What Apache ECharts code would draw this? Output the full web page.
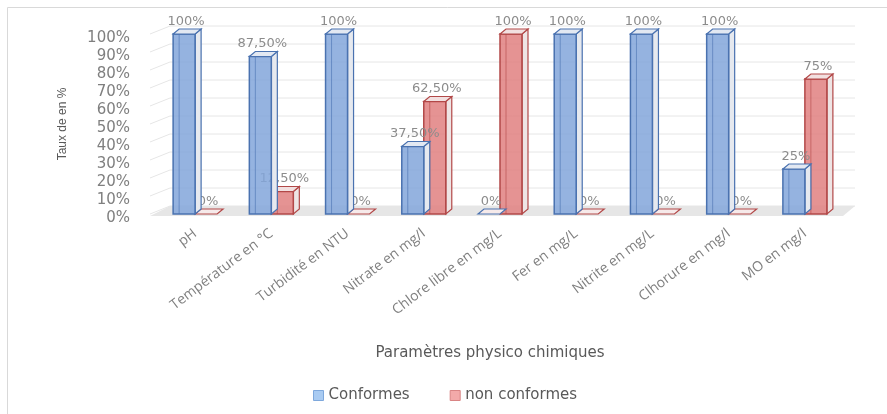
<!DOCTYPE html>
<html>
<head>
<meta charset="utf-8">
<script src="https://cdn.jsdelivr.net/npm/echarts@6/dist/echarts.min.js"></script>
<style>
  html, body { margin: 0; padding: 0; background: #fff; }
  #chart { width: 887px; height: 414px; }
</style>
</head>
<body>
<div id="chart"></div>
<script>
var categories = ['pH', 'Température en °C', 'Turbidité en NTU', 'Nitrate en mg/l',
    'Chlore libre en mg/L', 'Fer en mg/L', 'Nitrite en mg/L', 'Clhorure en mg/l', 'MO en mg/l'];
var conformes = [100, 87.5, 100, 37.5, 0, 100, 100, 100, 25];
var nonConformes = [0, 12.5, 0, 62.5, 100, 0, 0, 0, 75];
var yTicks = [0, 10, 20, 30, 40, 50, 60, 70, 80, 90, 100];

// bar look (front, edge, side)
var styles = {
    blue: { front: 'rgba(130,166,218,0.85)', edge: '#4a72b0', side: '#e6e9ef', top: '#e2e8f2', legend: '#a9cbf2', legendBorder: '#7ea8dc' },
    red: { front: 'rgba(224,128,128,0.85)', edge: '#b24848', side: '#eee4e4', top: '#f2e0e0', legend: '#f3a9a9', legendBorder: '#d98484' }
};
var DX = 6, DY = 5;      // bar depth
var WX = 20, WY = 8;     // wall depth

function fmt(v) {
    if (v % 1 === 0) return v + '%';
    return v.toFixed(2).replace('.', ',') + '%';
}

function bar3d(st, side) {
    return function (params, api) {
        var idx = api.value(0);
        var val = api.value(1);
        var base = api.coord([idx, 0]);
        var top = api.coord([idx, val]);
        var w = 22;
        var x = side === 0 ? base[0] - w : base[0];
        var y0 = base[1], y1 = top[1];
        var children = [];
        if (val > 0) {
            // side face
            children.push({
                type: 'polygon',
                shape: { points: [[x + w, y1], [x + w + DX, y1 - DY], [x + w + DX, y0 - DY], [x + w, y0]] },
                style: { fill: st.side, stroke: st.edge, lineWidth: 1.2 }
            });
            // front
            children.push({
                type: 'rect',
                shape: { x: x, y: y1, width: w, height: y0 - y1 },
                style: { fill: st.front, stroke: st.edge, lineWidth: 1.5 }
            });
            // inner back edge
            children.push({
                type: 'line',
                shape: { x1: x + DX, y1: y1, x2: x + DX, y2: y0 },
                style: { stroke: st.edge, lineWidth: 1, opacity: 0.6 }
            });
            // top face
            children.push({
                type: 'polygon',
                shape: { points: [[x, y1], [x + DX, y1 - DY], [x + w + DX, y1 - DY], [x + w, y1]] },
                style: { fill: st.top, stroke: st.edge, lineWidth: 1.2 }
            });
        } else {
            children.push({
                type: 'polygon',
                shape: { points: [[x, y0], [x + DX, y0 - DY], [x + w + DX, y0 - DY], [x + w, y0]] },
                style: { fill: '#f6eaea', stroke: st.edge, lineWidth: 1.2 }
            });
        }
        children.push({
            type: 'text',
            style: {
                text: fmt(val), x: x + w / 2 + 2, y: y1 - DY - 1,
                align: 'center', verticalAlign: 'bottom',
                fill: '#8c8c8c', font: '13px "DejaVu Sans"'
            },
            z2: 10
        });
        return { type: 'group', children: children };
    };
}

// back wall gridlines, floor and tick labels
function wall(params, api) {
    var cs = params.coordSys;
    var v = api.value(0);
    var p = api.coord([0, v]);
    var y = p[1];
    var left = cs.x - 7;
    var right = cs.x + cs.width + 12;
    var children = [
        { type: 'line', shape: { x1: left, y1: y, x2: left + WX, y2: y - WY }, style: { stroke: '#e6e6e6', lineWidth: 1 } },
        { type: 'line', shape: { x1: left + WX, y1: y - WY, x2: right, y2: y - WY }, style: { stroke: '#e6e6e6', lineWidth: 1 } },
        {
            type: 'text',
            style: {
                text: v + '%', x: cs.x - 27, y: y + 4,
                align: 'right', verticalAlign: 'middle',
                fill: '#7f7f7f', font: '15px "DejaVu Sans"'
            }
        }
    ];
    if (v === 0) {
        children.push({
            type: 'polygon',
            shape: { points: [[left, y + 2], [left + WX, y - WY], [right, y - WY], [right - 12, y + 2]] },
            style: { fill: '#e6e6e6' }
        });
    }
    return { type: 'group', children: children };
}

var option = {
    animation: false,
    graphic: [{
        type: 'polyline',
        shape: { points: [[7.5, 420], [7.5, 7.5], [887, 7.5]] },
        style: { fill: 'none', stroke: '#d9d9d9', lineWidth: 1 }
    }],
    legend: {
        bottom: 6, left: 308,
        itemWidth: 10, itemHeight: 10, itemGap: 40,
        icon: 'rect',
        textStyle: { color: '#595959', fontSize: 15, fontFamily: 'DejaVu Sans' },
        data: [
            { name: 'Conformes', itemStyle: { color: styles.blue.legend, borderColor: styles.blue.legendBorder, borderWidth: 1 } },
            { name: 'non conformes', itemStyle: { color: styles.red.legend, borderColor: styles.red.legendBorder, borderWidth: 1 } }
        ]
    },
    grid: { left: 157, right: 44, top: 34, bottom: 200 },
    xAxis: {
        type: 'category',
        data: categories,
        axisLine: { show: false },
        axisTick: { show: false },
        axisLabel: {
            interval: 0, rotate: 37, margin: 18,
            color: '#7f7f7f', fontSize: 14, fontFamily: 'Open Sans'
        },
        name: 'Paramètres physico chimiques',
        nameLocation: 'middle', nameGap: 132,
        nameTextStyle: { color: '#595959', fontSize: 15, fontFamily: 'DejaVu Sans', padding: [0, 20, 0, 0] }
    },
    yAxis: {
        type: 'value',
        min: 0, max: 100, interval: 10,
        axisLine: { show: false },
        axisTick: { show: false },
        splitLine: { show: false },
        axisLabel: { show: false },
        name: 'Taux de en %',
        nameLocation: 'middle', nameGap: 88,
        nameTextStyle: { color: '#595959', fontSize: 12, fontFamily: 'Liberation Sans' }
    },
    series: [
        {
            type: 'custom', name: 'wall', silent: true,
            renderItem: wall,
            encode: { y: 0 },
            data: yTicks.map(function (t) { return [t]; }),
            z: 1
        },
        {
            type: 'custom', name: 'Conformes',
            renderItem: bar3d(styles.blue, 0),
            itemStyle: { color: styles.blue.legend },
            encode: { x: 0, y: 1 },
            data: conformes.map(function (v, i) { return [i, v]; }),
            z: 3
        },
        {
            type: 'custom', name: 'non conformes',
            renderItem: bar3d(styles.red, 1),
            itemStyle: { color: styles.red.legend },
            encode: { x: 0, y: 1 },
            data: nonConformes.map(function (v, i) { return [i, v]; }),
            z: 2
        }
    ]
};

var myChart = echarts.init(document.getElementById('chart'));
myChart.setOption(option);
</script>
</body>
</html>
